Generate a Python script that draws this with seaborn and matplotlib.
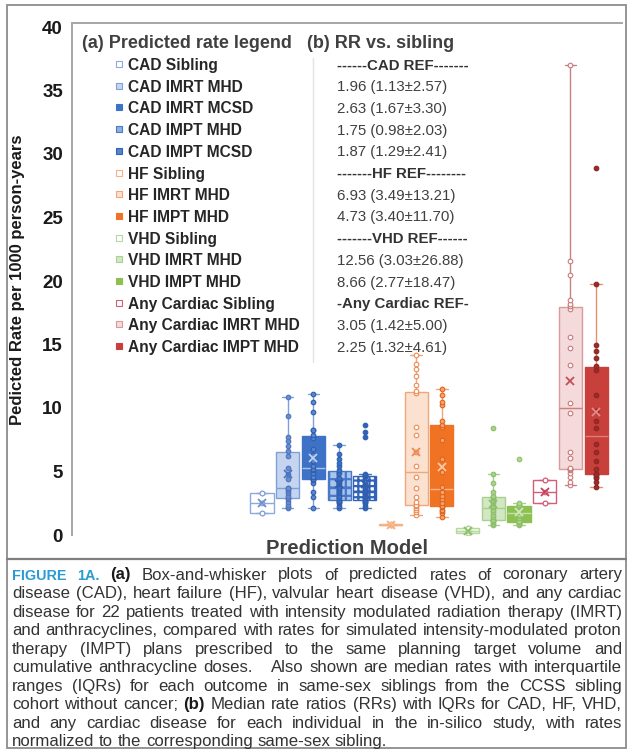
import numpy as np
import pandas as pd
import matplotlib
matplotlib.use("Agg")
import matplotlib.pyplot as plt
from matplotlib.patches import Rectangle
import seaborn as sns

# ---------------------------------------------------------------- data
models = [
    "CAD Sibling", "CAD IMRT MHD", "CAD IMRT MCSD", "CAD IMPT MHD", "CAD IMPT MCSD",
    "HF Sibling", "HF IMRT MHD", "HF IMPT MHD",
    "VHD Sibling", "VHD IMRT MHD", "VHD IMPT MHD",
    "Any Cardiac Sibling", "Any Cardiac IMRT MHD", "Any Cardiac IMPT MHD",
]

# sibling groups are given as Q1, Q1, median, Q3, Q3 (median rate with IQR)
cad_sibling = [1.7, 1.7, 2.5, 3.3, 3.3]
cad_imrt_mhd = [2.1, 2.2, 2.4, 2.6, 2.8, 2.9, 3.1, 3.3, 3.5, 3.6, 3.7,
                3.7, 4.4, 4.8, 5.3, 6.2, 6.6, 7.0, 7.4, 7.7, 9.4, 10.9]
cad_imrt_mcsd = [2.1, 3.0, 3.4, 4.1, 4.3, 4.4, 4.4, 4.6, 4.9, 5.1, 5.2,
                 5.4, 5.8, 6.3, 6.8, 7.6, 7.9, 8.3, 8.3, 9.7, 10.5, 11.1]
cad_impt_mhd = [2.1, 2.3, 2.5, 2.6, 2.7, 2.7, 2.9, 3.1, 3.3, 3.5, 3.6,
                3.8, 4.0, 4.2, 4.5, 4.9, 5.1, 5.4, 5.7, 6.0, 6.4, 7.1]
cad_impt_mcsd = [2.1, 2.3, 2.5, 2.6, 2.7, 2.7, 2.9, 3.0, 3.1, 3.2, 3.3,
                 3.4, 3.6, 3.8, 4.0, 4.6, 4.7, 4.7, 4.8, 7.7, 8.1, 8.7]
hf_sibling = [0.75, 0.75, 0.8, 0.85, 0.85]
hf_imrt_mhd = [1.6, 1.8, 2.0, 2.1, 2.3, 2.4, 2.4, 2.6, 3.0, 3.7, 4.6,
               5.4, 6.5, 7.9, 8.5, 11.2, 11.3, 11.8, 12.5, 13.1, 13.5, 14.2]
hf_impt_mhd = [1.4, 1.7, 1.9, 2.0, 2.2, 2.3, 2.3, 2.5, 2.8, 3.1, 3.4,
               3.8, 5.0, 6.0, 7.5, 8.5, 8.7, 9.0, 10.2, 10.5, 11.0, 11.5]
vhd_sibling = [0.15, 0.15, 0.35, 0.55, 0.55]
vhd_imrt_mhd = [0.8, 0.9, 1.0, 1.1, 1.2, 1.2, 1.2, 1.4, 1.6, 1.8, 2.0,
                2.2, 2.3, 2.5, 2.7, 2.9, 3.0, 3.1, 3.4, 4.1, 4.8, 8.4]
vhd_impt_mhd = [0.8, 0.9, 0.9, 1.0, 1.0, 1.0, 1.0, 1.1, 1.3, 1.5, 1.6,
                1.8, 1.9, 2.0, 2.1, 2.2, 2.3, 2.3, 2.4, 2.4, 2.5, 6.0]
any_sibling = [2.5, 2.5, 3.4, 4.3, 4.3]
any_imrt_mhd = [3.9, 4.2, 4.6, 4.9, 5.1, 5.2, 5.2, 5.3, 6.1, 6.5, 9.6,
                10.4, 13.4, 14.7, 15.6, 17.8, 18.0, 18.2, 18.5, 20.5, 21.6, 37.0]
any_impt_mhd = [3.8, 4.2, 4.5, 4.6, 4.7, 4.8, 4.8, 5.2, 5.8, 6.5, 7.2,
                8.4, 9.0, 9.8, 11.0, 13.0, 13.3, 13.9, 14.5, 15.0, 19.8, 28.9]

rates = [cad_sibling, cad_imrt_mhd, cad_imrt_mcsd, cad_impt_mhd, cad_impt_mcsd,
         hf_sibling, hf_imrt_mhd, hf_impt_mhd,
         vhd_sibling, vhd_imrt_mhd, vhd_impt_mhd,
         any_sibling, any_imrt_mhd, any_impt_mhd]

# (b) rate ratios vs. sibling, one row per legend entry
rr_text = ["------CAD REF-------", "1.96 (1.13±2.57)", "2.63 (1.67±3.30)",
           "1.75 (0.98±2.03)", "1.87 (1.29±2.41)",
           "-------HF REF--------", "6.93 (3.49±13.21)", "4.73 (3.40±11.70)",
           "-------VHD REF------", "12.56 (3.03±26.88)", "8.66 (2.77±18.47)",
           "-Any Cardiac REF-", "3.05 (1.42±5.00)", "2.25 (1.32±4.61)"]
rr_bold = [True, False, False, False, False, True, False, False,
           True, False, False, True, False, False]

caption_lines = [
    "FIGURE 1A. (a) Box-and-whisker plots of predicted rates of coronary artery",
    "disease (CAD), heart failure (HF), valvular heart disease (VHD), and any cardiac",
    "disease for 22 patients treated with intensity modulated radiation therapy (IMRT)",
    "and anthracyclines, compared with rates for simulated intensity-modulated proton",
    "therapy (IMPT) plans prescribed to the same planning target volume and",
    "cumulative anthracycline doses.   Also shown are median rates with interquartile",
    "ranges (IQRs) for each outcome in same-sex siblings from the CCSS sibling",
    "cohort without cancer; (b) Median rate ratios (RRs) with IQRs for CAD, HF, VHD,",
    "and any cardiac disease for each individual in the in-silico study, with rates",
    "normalized to the corresponding same-sex sibling.",
]

# ---------------------------------------------------------------- styles
box_fill = ["#ffffff", "#c5d5ef", "#3d72c6", "#a9c5ec", "#ffffff",
            "#fde9dc", "#fbe1cf", "#f07223",
            "#f3f9ee", "#d3e7c3", "#8cc152",
            "#ffffff", "#f4dada", "#c8403c"]
box_edge = ["#8eaadb", "#7f9fd8", "#3d72c6", "#4a78c8", "#2f62b8",
            "#f4b183", "#f2a77a", "#f07223",
            "#b6d89e", "#a9d18e", "#8cc152",
            "#d0607a", "#d99a9a", "#c8403c"]
median_col = ["#8eaadb", "#7f9fd8", "#a9c2ea", "#4a78c8", "#2f62b8",
              "#f4b183", "#f2a77a", "#f9b58c",
              "#b6d89e", "#a9d18e", "#c5e0a8",
              "#d0607a", "#c98080", "#e07d79"]
whisker_col = ["#8eaadb", "#7f9fd8", "#7f9fd8", "#7f9fd8", "#4a78c8",
               "#f4b183", "#f2a77a", "#f4a870",
               "#b6d89e", "#a9d18e", "#a9d18e",
               "#d0607a", "#c98080", "#e5906a"]
hatches = [None, None, None, "++", "+++", None, None, None,
           None, None, None, None, None, None]
pt_face = ["#ffffff", "#6a8fd0", "#5a86d0", "#3d72c6", "#2f62b8",
           "#ffffff", "#ffffff", "#f7a36d",
           "#ffffff", "#a9d18e", "#b5d88f",
           "#ffffff", "#ffffff", "#9e2b28"]
pt_edge = ["#7f9fd8", "#4f74be", "#2f5fae", "#2f5fae", "#2f5fae",
           "#f4b183", "#ee8a55", "#e0641c",
           "#a9d18e", "#8dbf6a", "#8dbf6a",
           "#d0607a", "#c97b7b", "#8a2624"]
mean_col = ["#6f8fcf", "#4f74be", "#c0d2f0", "#2f5fae", "#2f5fae",
            "#f4b183", "#ee8a55", "#fbc9a6",
            "#8dbf6a", "#8dbf6a", "#d0e8b8",
            "#c8405a", "#c0505a", "#e58a86"]
legend_face = ["#ffffff", "#c5d5ef", "#3d72c6", "#8fb0e2", "#5b82c8",
               "#ffffff", "#fbe1cf", "#f07223",
               "#ffffff", "#d3e7c3", "#8cc152",
               "#ffffff", "#f4dada", "#c8403c"]

W, H = 628, 751
sns.set_theme(style="white")
plt.rcParams["font.family"] = ["Liberation Sans", "DejaVu Sans"]
plt.rcParams["hatch.linewidth"] = 1.6

fig = plt.figure(figsize=(W / 100, H / 100), dpi=100)
fig.patch.set_facecolor("white")

# plot area in pixel terms: left 72, right 622, y=0 at 535, top at 23
ax_l, ax_r, ax_b, ax_t = 72, 622, 535, 23.2
ax = fig.add_axes([ax_l / W, (H - ax_b) / H, (ax_r - ax_l) / W, (ax_b - ax_t) / H])

for i, (name, vals) in enumerate(zip(models, rates)):
    sub = pd.DataFrame({"model": name, "rate": vals})
    n0 = len(ax.patches)
    sns.boxplot(data=sub, x="model", y="rate", order=models, ax=ax,
                color=box_fill[i], linecolor=box_edge[i], linewidth=1.0,
                width=0.9, saturation=1, whis=1.5, showfliers=False,
                medianprops={"color": median_col[i], "linewidth": 1.0},
                whiskerprops={"color": whisker_col[i], "linewidth": 1.0},
                capprops={"color": whisker_col[i], "linewidth": 1.0})
    if hatches[i]:
        for p in ax.patches[n0:]:
            p.set_hatch(hatches[i])
    sns.stripplot(data=sub, x="model", y="rate", order=models, ax=ax,
                  jitter=False, size=3.3, color=pt_face[i],
                  edgecolor=pt_edge[i], linewidth=0.8, zorder=3)
    sns.pointplot(data=sub, x="model", y="rate", order=models, ax=ax,
                  estimator="mean", errorbar=None, color=mean_col[i],
                  marker="x", linestyle="none", markersize=6,
                  markeredgewidth=1.3, zorder=4)

# category 0 sits at x=262 px, categories 25.7 px apart
step, x0px = 25.7, 262
ax.set_xlim((ax_l - x0px) / step, (ax_r - x0px) / step)
ax.set_ylim(0, (ax_b - ax_t) / 12.7)
ax.set_xticks([])
ax.set_yticks(range(0, 41, 5))
ax.tick_params(axis="y", length=0, pad=6.5, labelsize=13.5, labelcolor="#1a1a1a")
for lbl in ax.get_yticklabels():
    lbl.set_fontweight("bold")
for s in ["right", "bottom"]:
    ax.spines[s].set_visible(False)
for s in ["left", "top"]:
    ax.spines[s].set_color("#a6a6a6")
    ax.spines[s].set_linewidth(1.4)

ax.set_ylabel("Pedicted Rate per 1000 person-years", fontsize=12,
              fontweight="bold", color="#1a1a1a")
ax.yaxis.set_label_coords((25 - ax_l) / (ax_r - ax_l), (ax_b - 280) / (ax_b - ax_t))
ax.set_xlabel("Prediction Model", fontsize=14.5, fontweight="bold", color="#404040")
ax.xaxis.label.set_va("center")
ax.xaxis.set_label_coords(0.5, (ax_b - 548) / (ax_b - ax_t))

# ---------------------------------------------------------------- overlay (pixel coords)
ov = fig.add_axes([0, 0, 1, 1])
ov.set_xlim(0, W)
ov.set_ylim(H, 0)
ov.axis("off")
ov.patch.set_visible(False)
ov.set_zorder(5)

# frame and caption divider
ov.add_patch(Rectangle((7, 5), 619, 743, fill=False, edgecolor="#8c8c8c", lw=1.3))
ov.plot([7, 626], [559, 559], color="#7f7f7f", lw=1.6)
ov.plot([313, 313], [58, 362], color="#e3e3e3", lw=1.0)

# panel titles
ov.text(82, 42, "(a) Predicted rate legend", fontsize=13, fontweight="bold",
        color="#404040", va="center_baseline")
ov.text(307, 42, "(b) RR vs. sibling", fontsize=13, fontweight="bold",
        color="#404040", va="center_baseline")

row0, row_step = 64, 21.7
for i, name in enumerate(models):
    y = row0 + i * row_step
    ov.add_patch(Rectangle((116, y - 3), 6, 6, facecolor=legend_face[i],
                           edgecolor=box_edge[i], lw=0.8))
    ov.text(128, y, name, fontsize=11.2, fontweight="bold", color="#262626",
            va="center_baseline")
    ov.text(337, y, rr_text[i], fontsize=10.8,
            fontweight="bold" if rr_bold[i] else "normal",
            color="#333333" if rr_bold[i] else "#404040", va="center_baseline")

# caption, justified between x=12 and x=622
renderer = fig.canvas.get_renderer()
cap_fs = 12.1
cap_color = "#333333"
fig_blue = "#2a9bd3"
cx0, cx1 = 12, 622
base0, line_step = 579.5, 18.55


def caption_words(li, line, fs, y):
    arts = []
    for wi, w in enumerate(line.split(" ")):
        kw = dict(fontsize=fs, color=cap_color, va="baseline", ha="left")
        if li == 0 and wi < 2:
            kw.update(fontweight="bold", color=fig_blue, fontsize=fs * 0.86)
        elif w in ("(a)", "(b)"):
            kw.update(fontweight="bold", color="#1a1a1a")
        arts.append(ov.text(cx0, y, w, **kw))
    widths = [a.get_window_extent(renderer).width if a.get_text() else 0.0 for a in arts]
    return arts, widths


for li, line in enumerate(caption_lines):
    y = base0 + li * line_step
    fs = cap_fs
    while True:
        arts, widths = caption_words(li, line, fs, y)
        need = sum(widths) + (len(arts) - 1) * fs * 0.22 * 100 / 72
        if need <= cx1 - cx0 or fs < 9:
            break
        for a in arts:
            a.remove()
        fs -= 0.1
    if li < len(caption_lines) - 1:
        gap = (cx1 - cx0 - sum(widths)) / (len(arts) - 1)
    else:
        gap = fs * 0.278 * 100 / 72
    x = cx0
    for a, w in zip(arts, widths):
        a.set_x(x)
        x += w + gap

fig.savefig("out.png", dpi=100)
